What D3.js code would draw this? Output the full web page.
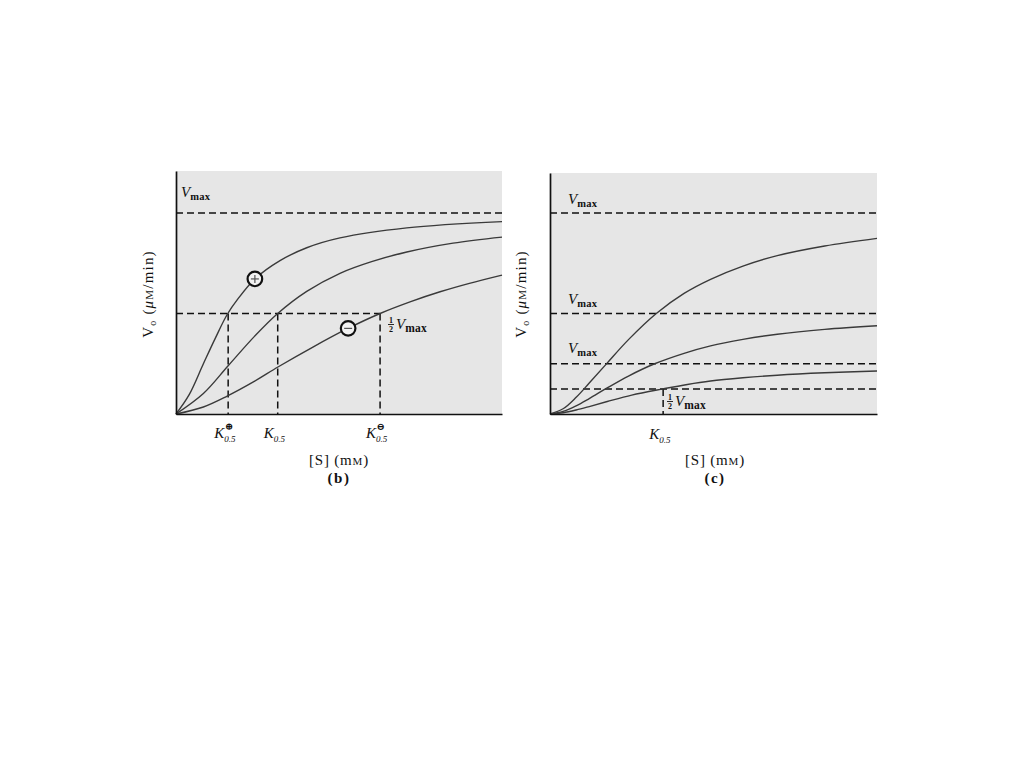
<!DOCTYPE html>
<html><head><meta charset="utf-8">
<script src="https://cdn.jsdelivr.net/npm/d3@7"></script>
<style>
body{margin:0;background:#fff}
svg{display:block}
text{font-family:"Liberation Serif","DejaVu Serif",serif;fill:#111}
</style>
</head><body>
<svg id="c" width="1024" height="768"></svg>
<script>
// ---------- Panel (b): modulators change K0.5 ----------
const bS_pos  = [0, 0.4, 0.84, 1.2, 1.57, 1.91, 2.42, 3.19, 4.01, 5.03, 7.08, 10];
const bV_pos  = [0, 9.5, 25, 37.5, 49.5, 57.5, 67.2, 76.3, 82.7, 87.6, 92.6, 95.7];
const bS_none = [0, 0.84, 1.6, 2.4, 3.12, 4.01, 5.03, 6.0, 7.08, 8.5, 10];
const bV_none = [0, 10.2, 24, 38.5, 50, 61, 70, 75.8, 80.6, 85, 88];
const bS_neg  = [0, 0.84, 1.57, 2.4, 3.14, 4.2, 5.24, 6.26, 7.2, 8.1, 9.0, 10];
const bV_neg  = [0, 3.5, 8.9, 16.2, 23.5, 33.3, 42.3, 50, 55.9, 60.8, 65, 69.1];
const bVmax = 100;
const bHalfVmax = 50;
const bK = [1.6, 3.12, 6.26];
const bKSup = ["\u2295", "", "\u2296"];
const bMarkS = [2.42, 5.28];
const bMarkV = [67.2, 42.6];
const bMarkSign = ["+", "-"];

// ---------- Panel (c): modulators change Vmax ----------
const cS_top = [0, 0.4, 0.8, 1.2, 1.74, 2.4, 3.25, 4.1, 4.91, 5.9, 6.95, 8.4, 10];
const cV_top = [0, 2.6, 8.3, 15.4, 25.2, 37, 50, 60, 67, 73.6, 78.8, 83.6, 87.4];
const cS_mid = [0, 0.4, 0.8, 1.2, 1.75, 2.4, 3.2, 4.1, 4.91, 5.9, 6.95, 8.4, 10];
const cV_mid = [0, 1.3, 4.1, 7.7, 13, 18.9, 25, 30.2, 33.9, 37.1, 39.7, 42.1, 43.9];
const cS_low = [0, 0.4, 0.8, 1.2, 1.75, 2.5, 3.46, 4.2, 4.91, 5.9, 6.95, 8.4, 10];
const cV_low = [0, 0.65, 2.0, 3.7, 6.2, 9.4, 12.5, 14.7, 16.4, 18.0, 19.3, 20.5, 21.4];
const cVmax = [100, 50, 25];
const cHalfVmax = 12.5;
const cK = 3.46;

const xDomain = [0, 10];
const svg = d3.select("#c");

function makePanel(left, right, topPx) {
  const x = d3.scaleLinear().domain(xDomain).range([left, right]);
  const y = d3.scaleLinear().domain([0, 100]).range([414, 213]);
  const topVal = y.invert(topPx);
  const g = svg.append("g");
  g.append("rect").attr("x", x(0)).attr("y", y(topVal))
    .attr("width", x(10) - x(0)).attr("height", y(0) - y(topVal))
    .attr("fill", "#e6e6e6");
  return {x, y, g, topVal};
}

function dashH(p, v, s0, s1) {
  p.g.append("line").attr("x1", p.x(s0)).attr("x2", p.x(s1))
    .attr("y1", p.y(v)).attr("y2", p.y(v))
    .attr("stroke", "#111").attr("stroke-width", 1.5).attr("stroke-dasharray", "7,4");
}
function dashV(p, s, v0, v1) {
  p.g.append("line").attr("x1", p.x(s)).attr("x2", p.x(s))
    .attr("y1", p.y(v0)).attr("y2", p.y(v1))
    .attr("stroke", "#111").attr("stroke-width", 1.5).attr("stroke-dasharray", "7,4");
}
function curve(p, S, V) {
  const line = d3.line().x(d => p.x(d[0])).y(d => p.y(d[1])).curve(d3.curveCatmullRom.alpha(0.5));
  p.g.append("path").attr("d", line(S.map((s, i) => [s, V[i]])))
    .attr("fill", "none").attr("stroke", "#3a3a3a").attr("stroke-width", 1.4);
}
function axes(p) {
  const ya = p.y.copy().domain([0, p.topVal]).range([p.y(0), p.y(p.topVal)]);
  const ax = p.g.append("g").attr("transform", `translate(${p.x(0)},0)`)
    .call(d3.axisLeft(ya).tickValues([]).tickSizeOuter(0));
  const bx = p.g.append("g").attr("transform", `translate(0,${p.y(0)})`)
    .call(d3.axisBottom(p.x).tickValues([]).tickSizeOuter(0));
  [ax, bx].forEach(a => a.select(".domain").attr("stroke", "#111").attr("stroke-width", 1.7));
}
function vmaxLabel(p, px, py, half) {
  let xx = px;
  if (half) {
    p.g.append("text").attr("x", xx + 3).attr("y", py - 6).attr("text-anchor", "middle")
      .attr("font-size", 8).attr("font-weight", "bold").text("1");
    p.g.append("line").attr("x1", xx).attr("x2", xx + 6).attr("y1", py - 4.5).attr("y2", py - 4.5)
      .attr("stroke", "#111").attr("stroke-width", 0.9);
    p.g.append("text").attr("x", xx + 3).attr("y", py + 2.5).attr("text-anchor", "middle")
      .attr("font-size", 8).attr("font-weight", "bold").text("2");
    xx += 8;
  }
  const t = p.g.append("text").attr("x", xx).attr("y", py);
  t.append("tspan").attr("font-style", "italic").attr("font-size", 15).text("V");
  t.append("tspan").attr("font-size", half ? 11.5 : 10.5).attr("font-weight", "bold").attr("dy", 3)
    .attr("letter-spacing", 0.3).text("max");
}
function kLabel(p, s, sup, yPx) {
  const cx = p.x(s);
  const x0 = cx - 14;
  const t = p.g.append("text").attr("x", x0).attr("y", yPx);
  t.append("tspan").attr("font-style", "italic").attr("font-size", 15).text("K");
  t.append("tspan").attr("font-size", 9).attr("font-style", "italic").attr("dy", 4).text("0.5");
  if (sup) {
    p.g.append("text").attr("x", x0 + 10.5).attr("y", yPx - 8).attr("font-size", 10)
      .attr("font-family", "DejaVu Sans").attr("font-weight", "bold").text(sup);
  }
}
function yTitle(cx, cy) {
  const t = svg.append("text").attr("transform", `translate(${cx},${cy}) rotate(-90)`)
    .attr("text-anchor", "middle").attr("font-size", 15).attr("letter-spacing", 1.2);
  t.append("tspan").text("V");
  t.append("tspan").attr("font-size", 10).attr("dy", 3).text("o");
  t.append("tspan").attr("dy", -3).text(" (");
  t.append("tspan").attr("font-style", "italic").text("\u03bc");
  t.append("tspan").attr("font-size", 11).text("M");
  t.append("tspan").text("/min)");
}
function xTitle(cx, letter) {
  const t = svg.append("text").attr("x", cx).attr("y", 465).attr("text-anchor", "middle")
    .attr("font-size", 15).attr("letter-spacing", 0.8);
  t.append("tspan").text("[S] (m");
  t.append("tspan").attr("font-size", 11).text("M");
  t.append("tspan").text(")");
  svg.append("text").attr("x", cx).attr("y", 483).attr("text-anchor", "middle")
    .attr("font-size", 15).attr("font-weight", "bold").attr("letter-spacing", 1.5).text(letter);
}

// ---- draw panel (b)
const pb = makePanel(176, 502, 171);
dashH(pb, bVmax, 0, 10);
dashH(pb, bHalfVmax, 0, bK[2]);
bK.forEach(k => dashV(pb, k, bHalfVmax, 0));
curve(pb, bS_pos, bV_pos);
curve(pb, bS_none, bV_none);
curve(pb, bS_neg, bV_neg);
axes(pb);
bMarkS.forEach((s, i) => {
  const cx = pb.x(s), cy = pb.y(bMarkV[i]);
  pb.g.append("circle").attr("cx", cx).attr("cy", cy).attr("r", 7.3)
    .attr("fill", "#f2f2f2").attr("stroke", "#111").attr("stroke-width", 2.2);
  pb.g.append("line").attr("x1", cx - 4).attr("x2", cx + 4).attr("y1", cy).attr("y2", cy)
    .attr("stroke", "#555").attr("stroke-width", 1.2);
  if (bMarkSign[i] === "+") {
    pb.g.append("line").attr("x1", cx).attr("x2", cx).attr("y1", cy - 4).attr("y2", cy + 4)
      .attr("stroke", "#555").attr("stroke-width", 1.2);
  }
});
vmaxLabel(pb, 181, 197, false);
vmaxLabel(pb, 388, 329, true);
bK.forEach((k, i) => kLabel(pb, k, bKSup[i], 438));
yTitle(153, 294);
xTitle(339, "(b)");

// ---- draw panel (c)
const pc = makePanel(550, 877, 173);
cVmax.forEach(v => dashH(pc, v, 0, 10));
dashH(pc, cHalfVmax, 0, 10);
dashV(pc, cK, cHalfVmax, 0);
curve(pc, cS_top, cV_top);
curve(pc, cS_mid, cV_mid);
curve(pc, cS_low, cV_low);
axes(pc);
vmaxLabel(pc, 568, 204, false);
vmaxLabel(pc, 568, 304, false);
vmaxLabel(pc, 568, 353, false);
vmaxLabel(pc, 667, 406, true);
kLabel(pc, cK, "", 439);
yTitle(526, 294);
xTitle(715, "(c)");
</script>
</body></html>
